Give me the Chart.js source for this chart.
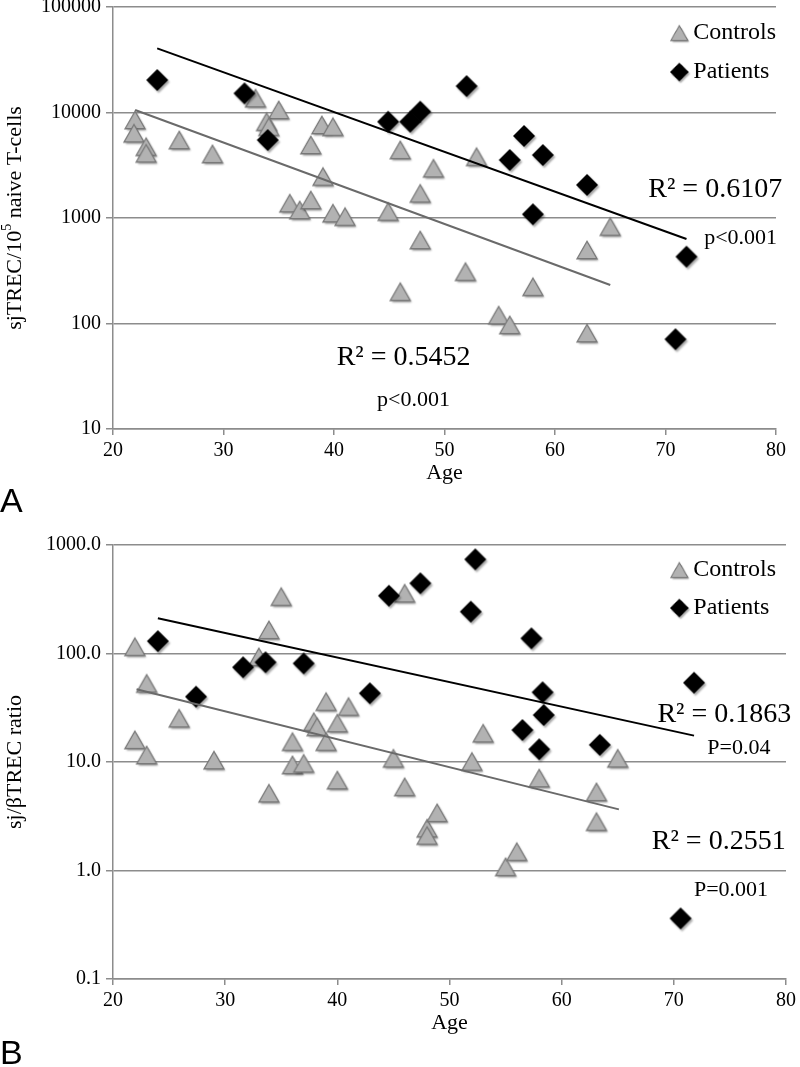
<!DOCTYPE html>
<html><head><meta charset="utf-8">
<script src="https://cdn.jsdelivr.net/npm/chart.js@4.4.1/dist/chart.umd.min.js"></script>
<style>
html,body{margin:0;padding:0;background:#fff;width:800px;height:1067px;overflow:hidden;position:relative}
canvas{position:absolute;left:0}
#c1{top:-20px}
#c2{top:525px}
</style></head><body>
<canvas id="c1" width="800" height="550"></canvas>
<canvas id="c2" width="800" height="542"></canvas>
<script>
// ---------- DATA ----------
const xTickValues = [20, 30, 40, 50, 60, 70, 80];
const yTickValuesA = [10, 100, 1000, 10000, 100000];
const yTickValuesB = [0.1, 1, 10, 100, 1000];

// Panel A: sjTREC / 10^5 naive T-cells
const controlsAgeA = [22.0, 21.9, 23.0, 23.0, 26.0, 29.0, 32.9, 35.0, 33.9, 34.1, 38.9, 39.9, 37.9, 39.0, 36.0, 36.9, 37.9, 39.9, 41.0, 44.9, 46.0, 47.8, 47.8, 46.0, 49.0, 52.9, 51.9, 58.0, 54.9, 55.9, 62.9, 62.9, 65.0];
const controlsValA = [8500, 6350, 4740, 4100, 5480, 4050, 13650, 10570, 8180, 7330, 7620, 7330, 4920, 2470, 1380, 1190, 1480, 1110, 1030, 1150, 4420, 1710, 618, 200, 2960, 3810, 310, 223, 120, 97, 498, 81, 829];
const patientsAgeA = [24.0, 31.9, 34.0, 44.9, 46.9, 47.8, 52.0, 57.2, 55.9, 58.9, 62.9, 58.0, 71.9, 70.9];
const patientsValA = [20300, 15200, 5480, 8180, 8180, 10190, 17800, 5990, 3550, 3950, 2060, 1085, 430, 71];
const trendPatientsAgeA = [24.0, 71.9];
const trendPatientsValA = [40500, 632];
const trendControlsAgeA = [22.0, 65.0];
const trendControlsValA = [10570, 232];

// Panel B: sj/betaTREC ratio
const controlsAgeB = [21.95, 23.0, 21.95, 23.0, 25.9, 29.0, 35.0, 33.9, 33.0, 33.9, 36.0, 36.0, 37.0, 37.9, 38.2, 39.0, 39.0, 40.0, 40.0, 41.0, 45.0, 46.0, 46.0, 48.0, 48.0, 48.9, 52.0, 53.0, 55.0, 56.0, 58.0, 63.1, 63.1, 65.0];
const controlsValB = [115.5, 53, 16, 11.6, 25.3, 10.4, 334, 165, 93, 5.15, 15.4, 9.4, 9.7, 23.5, 21.1, 36, 15.4, 22.8, 6.8, 32.4, 10.8, 359, 5.9, 2.45, 2.1, 3.4, 10.1, 18.4, 1.08, 1.49, 7.1, 5.3, 2.82, 10.8];
const patientsAgeB = [24.0, 27.4, 31.6, 33.6, 37.0, 42.9, 44.6, 47.4, 52.3, 51.9, 57.3, 58.3, 58.4, 56.5, 58.0, 63.4, 71.8, 70.6];
const patientsValB = [130, 40, 74.6, 83, 81, 43, 341, 444, 738, 243, 138, 43.9, 27.1, 19.7, 13.1, 14.4, 53.8, 0.362];
const trendPatientsAgeB = [24.0, 71.8];
const trendPatientsValB = [211, 17.5];
const trendControlsAgeB = [22.1, 65.1];
const trendControlsValB = [46.8, 3.66];

const seriesLabels = ['Controls', 'Patients'];
const notesA = [
  {text: 'R² = 0.6107', x: 74.5, y: 1840, size: 28},
  {text: 'p<0.001', x: 76.8, y: 646, size: 22},
  {text: 'R² = 0.5452', x: 46.3, y: 47.1, size: 28},
  {text: 'p<0.001', x: 47.2, y: 18.8, size: 22}
];
const notesB = [
  {text: 'R² = 0.1863', x: 74.5, y: 27.1, size: 28},
  {text: 'P=0.04', x: 75.8, y: 13.5, size: 22},
  {text: 'R² = 0.2551', x: 74.0, y: 1.83, size: 28},
  {text: 'P=0.001', x: 75.1, y: 0.661, size: 22}
];

// ---------- STYLE ----------
const SERIF = "'Liberation Serif','Times New Roman',serif";
const SANS = "'Liberation Sans',Arial,sans-serif";
const GRID = '#8c8c8c';

function makeMarker(kind) {
  const c = document.createElement('canvas');
  c.width = 32; c.height = 32;
  const g = c.getContext('2d');
  g.shadowColor = 'rgba(0,0,0,0.35)';
  g.shadowOffsetX = 1.5; g.shadowOffsetY = 2; g.shadowBlur = 2;
  g.beginPath();
  if (kind === 'tri') {
    g.moveTo(16, 16 - 8.75); g.lineTo(26, 16 + 8.75); g.lineTo(6, 16 + 8.75); g.closePath();
    g.fillStyle = '#b2b2b2'; g.fill();
    g.shadowColor = 'transparent';
    g.lineWidth = 1.3; g.strokeStyle = '#777'; g.stroke();
  } else {
    g.moveTo(16, 5); g.lineTo(27, 16); g.lineTo(16, 27); g.lineTo(5, 16); g.closePath();
    g.fillStyle = '#000'; g.fill();
  }
  return c;
}
const TRI = makeMarker('tri');
const DIA = makeMarker('dia');

function pts(xs, ys) { return xs.map((x, i) => ({x: x, y: ys[i]})); }

function drawRich(ctx, parts, cx, cy, size) {
  ctx.save();
  ctx.translate(cx, cy);
  ctx.rotate(-Math.PI / 2);
  ctx.textBaseline = 'middle';
  ctx.textAlign = 'left';
  let total = 0;
  parts.forEach(p => {
    ctx.font = (p.sup ? Math.round(size * 0.62) : size) + 'px ' + SERIF;
    p.w = ctx.measureText(p.text).width; total += p.w;
  });
  let x = -total / 2;
  parts.forEach(p => {
    ctx.font = (p.sup ? Math.round(size * 0.62) : size) + 'px ' + SERIF;
    ctx.fillText(p.text, x, p.sup ? -size * 0.33 : 0);
    x += p.w;
  });
  ctx.restore();
}

const sideLegend = {
  id: 'sideLegend',
  afterDraw(chart, args, opts) {
    const ctx = chart.ctx;
    ctx.save();
    ctx.font = '24px ' + SERIF; ctx.textBaseline = 'middle'; ctx.fillStyle = '#000'; ctx.textAlign = 'left';
    const items = chart.data.datasets.filter(d => d.inLegend);
    const tw = Math.max.apply(null, items.map(d => ctx.measureText(d.label).width));
    const tx = opts.right - tw;
    items.forEach((d, i) => {
      const y = opts.top + i * opts.gap;
      const img = d.pointStyle, s = 0.85;
      ctx.drawImage(img, tx - 14 - img.width * s / 2, y - img.height * s / 2, img.width * s, img.height * s);
      ctx.fillText(d.label, tx, y);
    });
    ctx.restore();
  }
};

const texts = {
  id: 'texts',
  afterDatasetsDraw(chart, args, opts) {
    const ctx = chart.ctx, xs = chart.scales.x, ys = chart.scales.y, ca = chart.chartArea;
    ctx.save();
    ctx.fillStyle = '#000'; ctx.textBaseline = 'middle'; ctx.textAlign = 'center';
    opts.notes.forEach(n => {
      ctx.font = n.size + 'px ' + SERIF;
      ctx.fillText(n.text, xs.getPixelForValue(n.x), ys.getPixelForValue(n.y));
    });
    drawRich(ctx, opts.yTitle, opts.yTitleX, (ca.top + ca.bottom) / 2, 22);
    ctx.font = '34px ' + SANS; ctx.textAlign = 'left';
    ctx.fillText(opts.letter, 0, opts.letterY);
    ctx.restore();
  }
};

function build(id, cfg) {
  const datasets = [
    {label: seriesLabels[0], data: pts(cfg.cAge, cfg.cVal), pointStyle: TRI, pointRadius: 11, order: 2, inLegend: true},
    {label: seriesLabels[1], data: pts(cfg.pAge, cfg.pVal), pointStyle: DIA, pointRadius: 11, order: 1, inLegend: true},
    {label: 'Patients trend', type: 'line', data: pts(cfg.tpAge, cfg.tpVal), borderColor: '#000', borderWidth: 2, pointRadius: 0, order: 0, fill: false},
    {label: 'Controls trend', type: 'line', data: pts(cfg.tcAge, cfg.tcVal), borderColor: '#6a6a6a', borderWidth: 2, pointRadius: 0, order: 0, fill: false}
  ];
  return new Chart(document.getElementById(id), {
    type: 'scatter',
    data: {datasets: datasets},
    plugins: [texts, sideLegend],
    options: {
      responsive: false, animation: false, devicePixelRatio: 1,
      layout: {padding: {top: cfg.padTop, right: cfg.padRight, bottom: 0, left: 0}},
      plugins: {
        legend: {display: false}, tooltip: {enabled: false},
        texts: {notes: cfg.notes, yTitle: cfg.yTitle, yTitleX: 15, letter: cfg.letter, letterY: cfg.letterY},
        sideLegend: {right: 776, top: cfg.legTop, gap: cfg.legGap}
      },
      scales: {
        x: {
          type: 'linear', min: 20, max: 80,
          afterBuildTicks: s => { s.ticks = xTickValues.map(v => ({value: v})); },
          afterFit: s => { s.height = cfg.xHeight; },
          grid: {drawOnChartArea: false, drawTicks: true, tickLength: 6, color: GRID, lineWidth: 1.5},
          border: {display: true, color: GRID, width: 1.5},
          ticks: {font: {family: SERIF, size: 20}, color: '#000', padding: 4, maxRotation: 0, callback: v => String(v)},
          title: {display: true, text: 'Age', font: {family: SERIF, size: 22}, color: '#000', padding: {top: 0, bottom: cfg.titlePad}}
        },
        y: {
          type: 'logarithmic', min: cfg.yMin, max: cfg.yMax,
          afterBuildTicks: s => { s.ticks = cfg.yTicks.map(v => ({value: v})); },
          afterFit: s => { s.width = 113; },
          grid: {color: GRID, lineWidth: 1.5, tickLength: 7, drawTicks: true},
          border: {display: true, color: GRID, width: 1.5},
          ticks: {font: {family: SERIF, size: 20}, color: '#000', padding: 5, callback: cfg.fmt}
        }
      }
    }
  });
}

build('c1', {
  cAge: controlsAgeA, cVal: controlsValA, pAge: patientsAgeA, pVal: patientsValA,
  tpAge: trendPatientsAgeA, tpVal: trendPatientsValA, tcAge: trendControlsAgeA, tcVal: trendControlsValA,
  yMin: 10, yMax: 100000, yTicks: yTickValuesA, fmt: v => String(Math.round(v)),
  padTop: 27, padRight: 24, xHeight: 101, titlePad: 44,
  notes: notesA, letter: 'A', letterY: 523, legTop: 53, legGap: 39,
  yTitle: [{text: 'sjTREC/10'}, {text: '5', sup: true}, {text: ' naive T-cells'}]
});
build('c2', {
  cAge: controlsAgeB, cVal: controlsValB, pAge: patientsAgeB, pVal: patientsValB,
  tpAge: trendPatientsAgeB, tpVal: trendPatientsValB, tcAge: trendControlsAgeB, tcVal: trendControlsValB,
  yMin: 0.1, yMax: 1000, yTicks: yTickValuesB, fmt: v => Number(v).toFixed(1),
  padTop: 20, padRight: 11, xHeight: 88, titlePad: 31,
  notes: notesB, letter: 'B', letterY: 530, legTop: 45, legGap: 38,
  yTitle: [{text: 'sj/βTREC ratio'}]
});
</script>
</body></html>
